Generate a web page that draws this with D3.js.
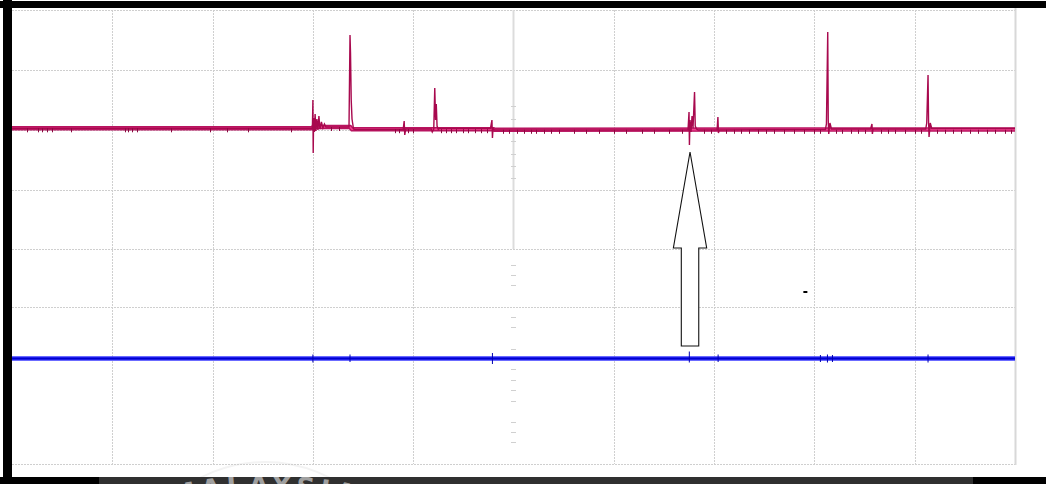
<!DOCTYPE html>
<html>
<head>
<meta charset="utf-8">
<script src="https://cdn.jsdelivr.net/npm/d3@7"></script>
<style>
  html, body { margin: 0; padding: 0; background: #ffffff; overflow: hidden; }
  svg { display: block; }
</style>
</head>
<body>
<svg id="scope" width="1046" height="484"></svg>
<script>
// Horizontal: 10 divisions of 100 µs. Vertical: 60 mV per division.
const timeDomain = [0, 1000];
const voltDomain = [240, -214];
const gridTimes = d3.range(0, 1001, 100);
const gridVolts = [240, 180, 120, 60, 1, -57];
const centreTickVolts = [144, 131, 109, 96, 84, 72, -15, -25, -35, -67, -77, -99,
                         -119, -130, -140, -151, -172, -182, -192];

// Channel 1 (magenta): [time µs, mV]
const ch1Times = [0, 298, 299.5, 300, 300.3, 300.7, 301.5, 302.2, 303, 304, 305, 306, 307, 308.5, 310, 311.5, 313,
  336, 337, 337.5, 338.2, 339, 340.5, 342,
  390, 391, 391.6, 392.5, 418, 419, 420.5, 421.5, 422.3, 423, 423.8, 425, 426,
  477, 478.5, 479, 479.6, 481,
  674, 675, 675.4, 676, 677, 678, 679, 680.5, 681.2, 682.5, 684,
  703, 703.8, 704.3, 705,
  811, 812, 813.3, 813.8, 814.3, 815.5, 817,
  856, 857.4, 857.8, 858.5,
  911, 912, 913.3, 913.8, 914.3, 915.5, 917, 1000];
const ch1Volts = [121.7, 121.7, 121.7, 150, 97, 132, 118, 136, 119, 131, 120, 134, 121, 128, 122, 126, 123,
  123, 215, 197, 150, 131, 121, 120.5,
  120.5, 129, 115, 121, 121, 118, 121, 162, 130, 146, 124, 120.5, 121.5,
  121.5, 130, 112, 121.5, 120,
  120, 138, 105, 130, 118, 134, 122, 158, 124, 121, 120,
  120, 133, 117, 120,
  120.5, 126, 218, 130, 116, 127, 121,
  121, 126, 116, 121,
  121, 127, 175, 130, 113, 127, 121.5, 121.5];

// Channel 1 resting level between events (for the thick phosphor band)
const ch1BaseTimes = [0, 300, 300.5, 337, 339, 480, 481, 1000];
const ch1BaseVolts = [121.7, 121.7, 123, 123, 120.8, 120.8, 120.2, 120.6];

// Short noise dashes hanging under the channel 1 trace (time µs)
const ch1NoiseTimes = [15, 26, 30, 35, 40, 59, 113, 116, 120, 125, 159, 197, 214, 235, 278, 318, 326,
  382, 386, 395, 400, 428, 433, 438, 443, 450, 455, 462, 468, 474,
  490, 496, 503, 510, 517, 522, 530, 537, 545, 560, 572, 585, 600, 612, 628, 640, 655, 668,
  690, 697, 712, 720, 727, 735, 744, 752, 760, 770, 780, 790, 800, 806,
  822, 828, 836, 843, 850, 866, 873, 880, 890, 900, 906,
  922, 930, 938, 946, 955, 963, 972, 980, 990, 996];

// Channel 2 (blue): flat level with small glitches [time µs, up mV, down mV]
const ch2Level = -108.5;
const ch2Glitches = [[300, 2, 2], [337, 2, 1.5], [479, 3.5, 3.5], [675.3, 5, 2], [704, 2, 1.5],
  [806, 1.5, 1.5], [813, 2, 2], [818, 1.5, 1.5], [913.3, 2, 2]];

// Annotation arrow under the event near 676 µs
const arrowTime = 676;
const arrowTipVolt = 98, arrowHeadVolt = 2, arrowTailVolt = -96;
const arrowHeadHalf = 16.6, arrowShaftHalf = 8.7;
// Small trigger marker
const markerPoint = [791, -42];

const svg = d3.select("#scope");
const W = 1046, H = 484;
const x = d3.scaleLinear().domain(timeDomain).range([12, 1015]);
const y = d3.scaleLinear().domain(voltDomain).range([10, 464]);

// Background
svg.append("rect").attr("width", W).attr("height", H).attr("fill", "#ffffff");

// Faint watermark ring
svg.append("circle").attr("cx", 265).attr("cy", 603).attr("r", 141)
  .attr("fill", "none").attr("stroke", "#f3f3f3").attr("stroke-width", 2);

// Graticule
const grid = svg.append("g").attr("class", "grid");
grid.selectAll("line.v").data(gridTimes.filter(t => t > 0 && t < 1000 && t !== 500)).join("line")
  .attr("x1", d => Math.round(x(d)) + 0.5).attr("x2", d => Math.round(x(d)) + 0.5)
  .attr("y1", y(voltDomain[0])).attr("y2", y(voltDomain[1]))
  .attr("stroke", "#cfcfcf").attr("stroke-width", 1).attr("stroke-dasharray", "2,1");
grid.selectAll("line.h").data(gridVolts.concat([voltDomain[1]])).join("line")
  .attr("x1", x(0)).attr("x2", x(1000))
  .attr("y1", d => Math.round(y(d)) + 0.5).attr("y2", d => Math.round(y(d)) + 0.5)
  .attr("stroke", "#cfcfcf").attr("stroke-width", 1).attr("stroke-dasharray", "2,1");
// Centre vertical axis (upper half solid) and its minor ticks
grid.append("line")
  .attr("x1", x(500)).attr("x2", x(500)).attr("y1", y(voltDomain[0])).attr("y2", y(1))
  .attr("stroke", "#dcdcdc").attr("stroke-width", 2);
grid.selectAll("line.tk").data(centreTickVolts).join("line")
  .attr("x1", x(500) - 2.5).attr("x2", x(500) + 2.5)
  .attr("y1", d => Math.round(y(d)) + 0.5).attr("y2", d => Math.round(y(d)) + 0.5)
  .attr("stroke", "#d0d0d0").attr("stroke-width", 1);
// Right frame edge
grid.append("line").attr("x1", x(1000) + 0.5).attr("x2", x(1000) + 0.5)
  .attr("y1", 8).attr("y2", y(voltDomain[1]) + 1)
  .attr("stroke", "#d8d8d8").attr("stroke-width", 2);

// Channel 2 trace
const ch2 = svg.append("g");
ch2.append("line").attr("x1", x(0)).attr("x2", x(1000)).attr("y1", y(ch2Level)).attr("y2", y(ch2Level))
  .attr("stroke", "#3a3aff").attr("stroke-width", 4.5);
ch2.append("line").attr("x1", x(0)).attr("x2", x(1000)).attr("y1", y(ch2Level)).attr("y2", y(ch2Level))
  .attr("stroke", "#0000d0").attr("stroke-width", 2);
ch2.selectAll("line.g").data(ch2Glitches).join("line")
  .attr("x1", d => x(d[0])).attr("x2", d => x(d[0]))
  .attr("y1", d => y(ch2Level + d[1] + 2)).attr("y2", d => y(ch2Level - d[2] - 2))
  .attr("stroke", "#0000b0").attr("stroke-width", 1);

// Channel 1 trace: thick resting band, then the thin full-bandwidth trace on top
const line = d3.line().x(d => x(d[0])).y(d => y(d[1]));
const baseData = ch1BaseTimes.map((t, i) => [t, ch1BaseVolts[i]]);
const ch1Data = ch1Times.map((t, i) => [t, ch1Volts[i]]);
const ch1 = svg.append("g");
ch1.append("path").datum(baseData).attr("d", line)
  .attr("fill", "none").attr("stroke", "#b81460").attr("stroke-width", 4.5);
ch1.append("path").datum(baseData).attr("d", line)
  .attr("fill", "none").attr("stroke", "#f2418f").attr("stroke-width", 1.6);
ch1.append("path").datum(ch1Data).attr("d", line)
  .attr("fill", "none").attr("stroke", "#a8094e").attr("stroke-width", 1.4);
// Noise dashes: sample the resting level at each time
const levelAt = t => {
  const i = d3.bisectRight(ch1BaseTimes, t);
  return ch1BaseVolts[Math.max(0, i - 1)];
};
ch1.selectAll("line.n").data(ch1NoiseTimes).join("line")
  .attr("x1", d => Math.round(x(d)) + 0.5).attr("x2", d => Math.round(x(d)) + 0.5)
  .attr("y1", d => y(levelAt(d))).attr("y2", d => y(levelAt(d) - 4))
  .attr("stroke", "#8a0a40").attr("stroke-width", 1);

// Arrow annotation
const ax = arrowTime;
const arrowPts = [
  [ax, arrowTipVolt],
  [ax + arrowHeadHalf, arrowHeadVolt],
  [ax + arrowShaftHalf, arrowHeadVolt],
  [ax + arrowShaftHalf, arrowTailVolt],
  [ax - arrowShaftHalf, arrowTailVolt],
  [ax - arrowShaftHalf, arrowHeadVolt],
  [ax - arrowHeadHalf, arrowHeadVolt]
];
svg.append("polygon")
  .attr("points", arrowPts.map(p => [x(p[0]), y(p[1])].join(",")).join(" "))
  .attr("fill", "#ffffff").attr("stroke", "#111111").attr("stroke-width", 1.1);

// Trigger marker
svg.append("rect").attr("x", x(markerPoint[0]) - 2).attr("y", y(markerPoint[1]) - 1)
  .attr("width", 4).attr("height", 2).attr("fill", "#000");

// Frame: black borders and bottom bar
svg.append("rect").attr("x", 0).attr("y", 1).attr("width", W).attr("height", 7).attr("fill", "#000");
svg.append("rect").attr("x", 3).attr("y", 0).attr("width", 9).attr("height", H).attr("fill", "#000");
svg.append("rect").attr("x", 0).attr("y", 477).attr("width", 99).attr("height", 7).attr("fill", "#000");
svg.append("rect").attr("x", 99).attr("y", 477).attr("width", 874).attr("height", 7).attr("fill", "#303030");
svg.append("rect").attr("x", 973).attr("y", 477).attr("width", 73).attr("height", 7).attr("fill", "#000");

// Watermark lettering on the bar, set along a wide arc centred at (265, 900)
const wmR = 406, wmA = 0.35;
const defs = svg.append("defs");
defs.append("clipPath").attr("id", "barClip").append("rect")
  .attr("x", 99).attr("y", 477).attr("width", 874).attr("height", 7);
defs.append("path").attr("id", "wmArc")
  .attr("d", "M" + (265 - wmR * Math.sin(wmA)) + "," + (900 - wmR * Math.cos(wmA)) +
             " A" + wmR + "," + wmR + " 0 0,1 " + (265 + wmR * Math.sin(wmA)) + "," + (900 - wmR * Math.cos(wmA)));
svg.append("g").attr("clip-path", "url(#barClip)")
  .append("text")
  .attr("font-family", "DejaVu Sans, sans-serif").attr("font-weight", "bold").attr("font-size", 26)
  .attr("fill", "#a0a0a0").attr("letter-spacing", 5)
  .append("textPath").attr("href", "#wmArc").attr("startOffset", "50%").attr("text-anchor", "middle")
  .text("MALAYSIA");
</script>
</body>
</html>
